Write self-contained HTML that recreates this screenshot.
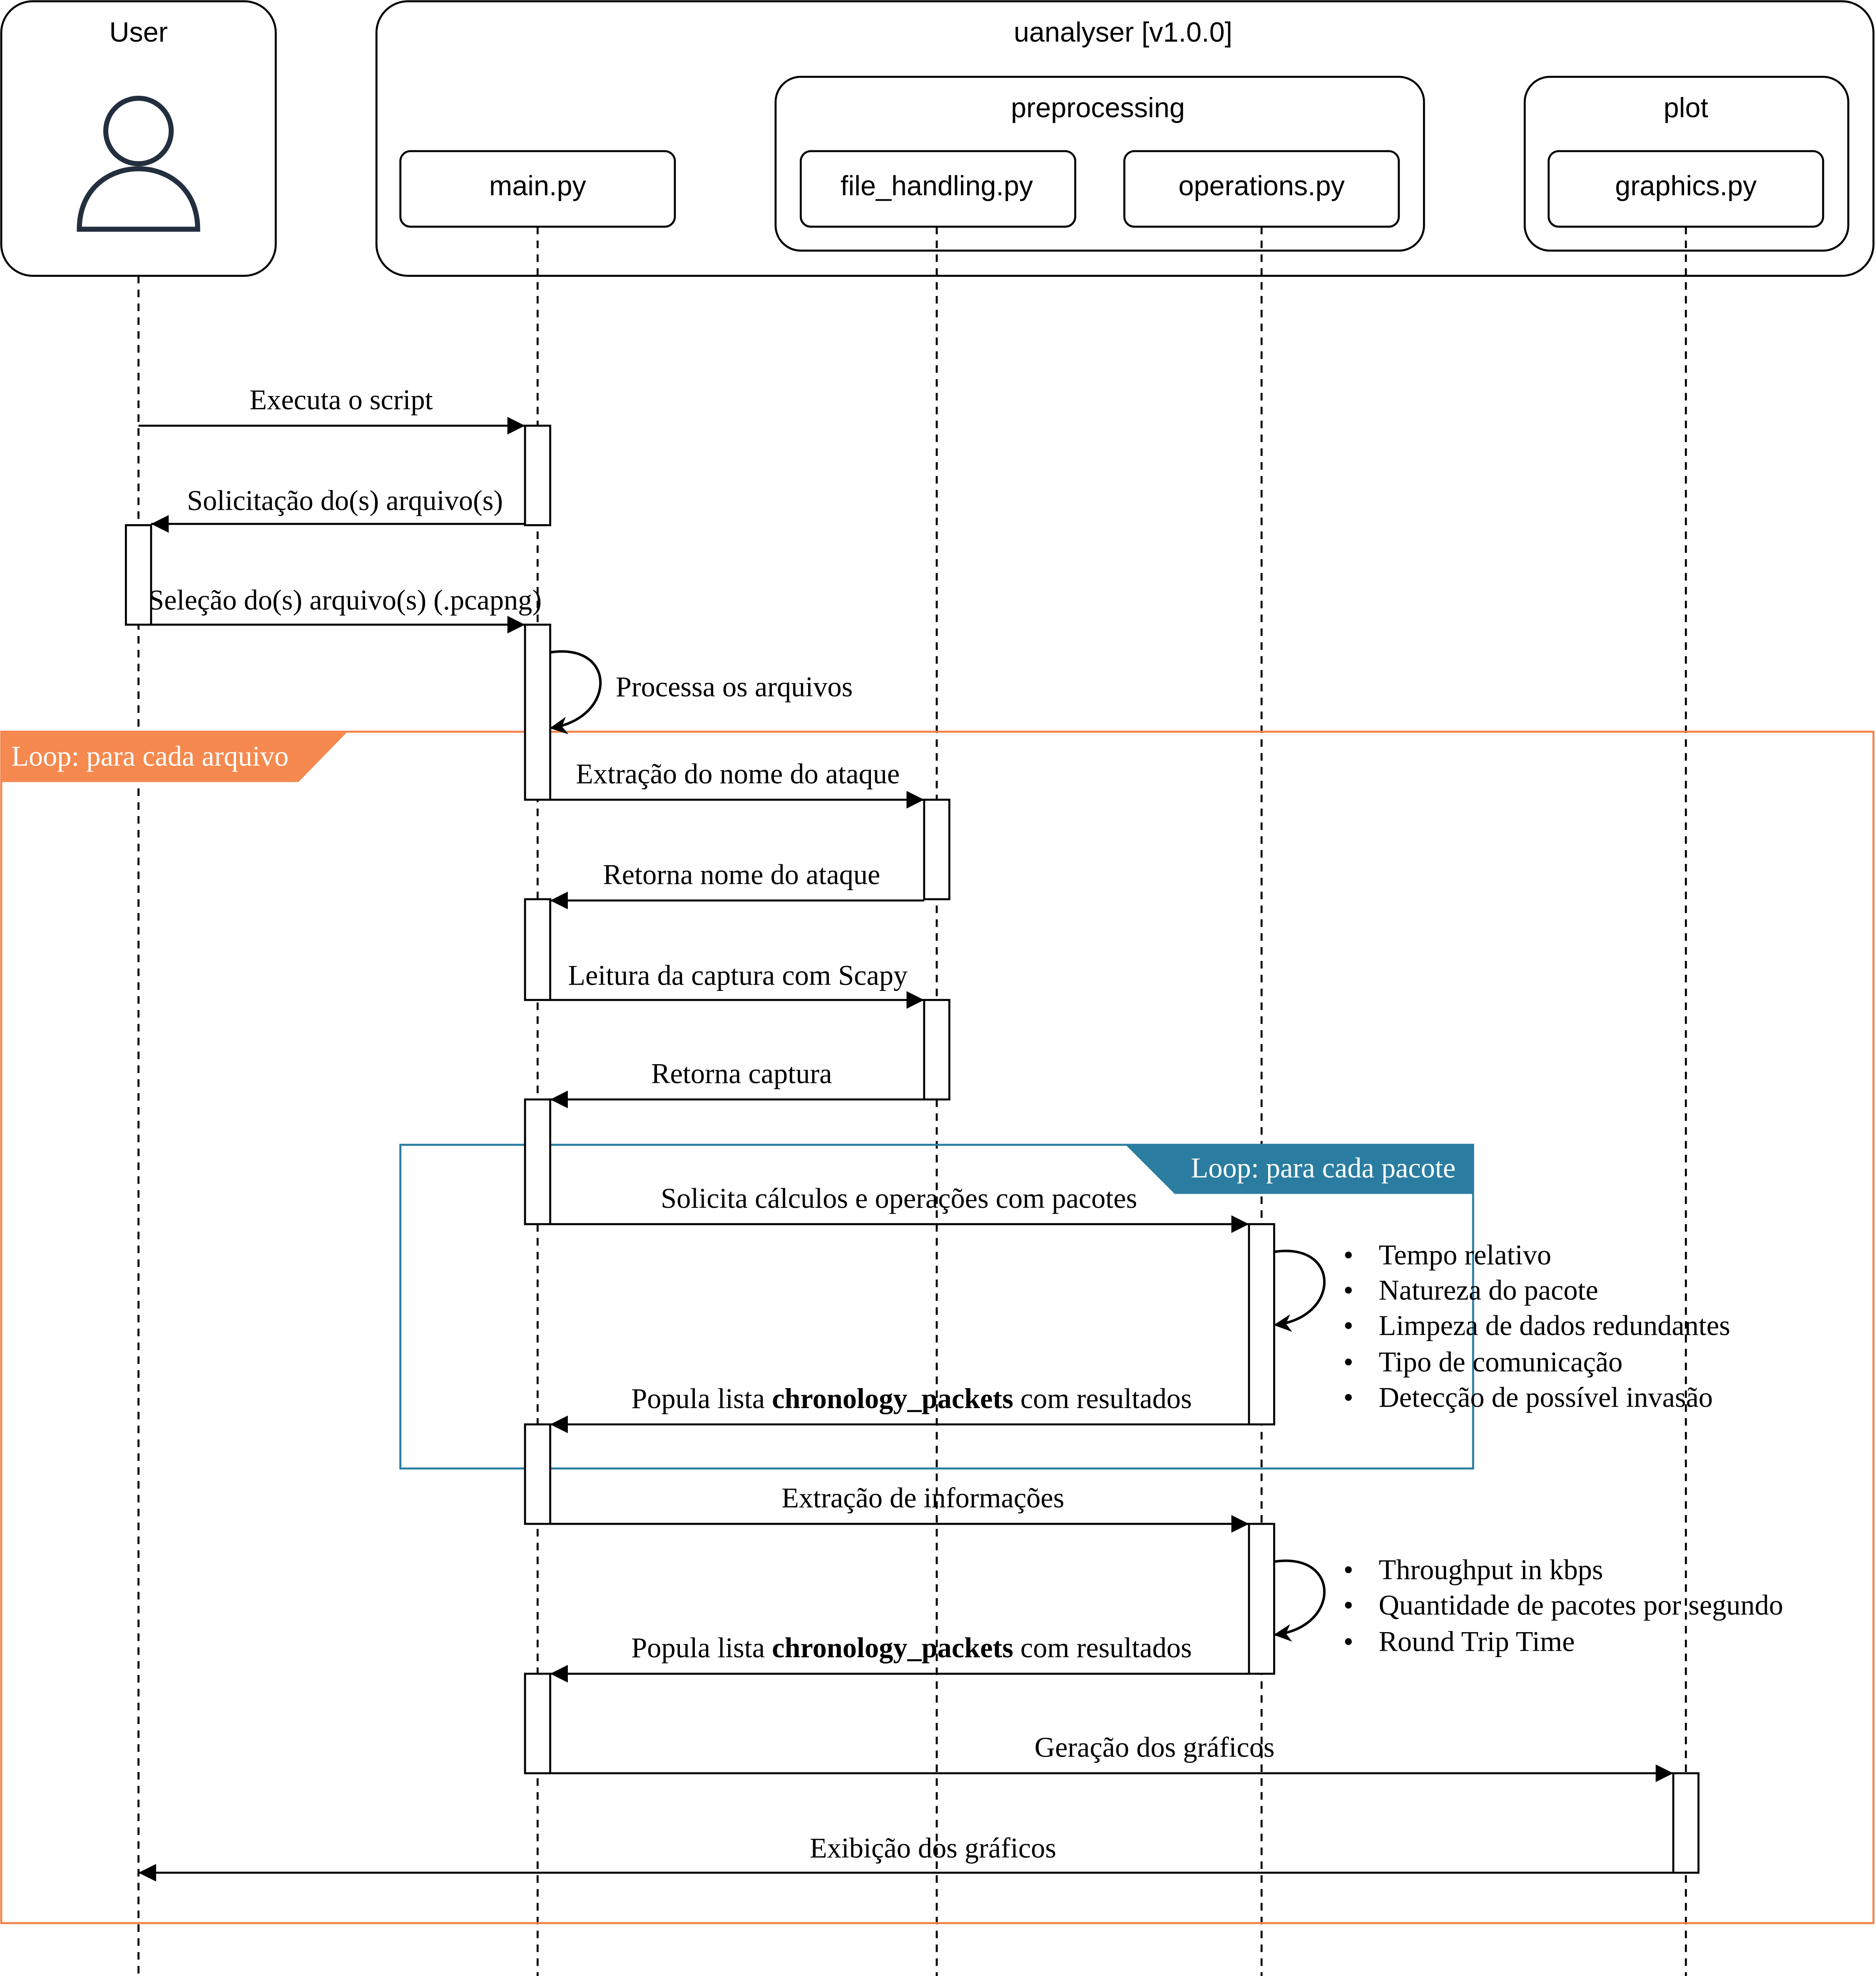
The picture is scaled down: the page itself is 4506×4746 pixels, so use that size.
<!DOCTYPE html>
<html><head><meta charset="utf-8"><style>html,body{margin:0;padding:0;background:#fff}svg{display:block}</style></head>
<body>
<svg xmlns="http://www.w3.org/2000/svg" width="4506" height="4746" viewBox="0 0 1490 1569" preserveAspectRatio="none">
<defs>
<marker id="ahb" viewBox="0 0 10 10" refX="10" refY="5" markerWidth="16" markerHeight="14" markerUnits="userSpaceOnUse" orient="auto"><path d="M0,0 L10,5 L0,10 z" fill="#000"/></marker>
<marker id="ac" viewBox="0 0 10 10" refX="9" refY="5" markerWidth="14" markerHeight="14" markerUnits="userSpaceOnUse" orient="auto"><path d="M0,0 L10,5 L0,10 L3,5 z" fill="#000"/></marker>
</defs>
<rect width="1490" height="1569" fill="#fff"/>
<g stroke="#000" stroke-width="1.6" stroke-dasharray="6,5" fill="none">
<line x1="110" y1="219" x2="110" y2="1569"/>
<line x1="427" y1="180" x2="427" y2="1569"/>
<line x1="744" y1="180" x2="744" y2="1569"/>
<line x1="1002" y1="180" x2="1002" y2="1569"/>
<line x1="1339" y1="180" x2="1339" y2="1569"/>
</g>
<g fill="none" stroke="#000" stroke-width="1.6">
<rect x="1" y="1" width="218" height="218" rx="25"/>
<rect x="299" y="1" width="1189" height="218" rx="25"/>
<rect x="616" y="61" width="515" height="138" rx="20"/>
<rect x="1211" y="61" width="257" height="138" rx="20"/>
<rect x="318" y="120" width="218" height="60" rx="8"/>
<rect x="636" y="120" width="218" height="60" rx="8"/>
<rect x="893" y="120" width="218" height="60" rx="8"/>
<rect x="1230" y="120" width="218" height="60" rx="8"/>
</g>
<g font-family="Liberation Sans, sans-serif" font-size="22" text-anchor="middle" fill="#000">
<text x="110" y="33">User</text>
<text x="892" y="33">uanalyser [v1.0.0]</text>
<text x="872" y="93">preprocessing</text>
<text x="1339" y="93">plot</text>
<text x="427" y="155">main.py</text>
<text x="744" y="155">file_handling.py</text>
<text x="1002" y="155">operations.py</text>
<text x="1339" y="155">graphics.py</text>
</g>
<g fill="none" stroke="#232F3E" stroke-width="4">
<circle cx="110" cy="104" r="26"/>
<path d="M63,182 C63,118 157,118 157,182 Z"/>
</g>
<rect x="1" y="581" width="1487" height="946" fill="none" stroke="#F5824A" stroke-width="1.6"/>
<polygon points="1,581 276,581 237,621 1,621" fill="#F5894F"/>
<rect x="318" y="909" width="852" height="257" fill="none" stroke="#2A7DA0" stroke-width="1.6"/>
<polygon points="894,909 1170,909 1170,948 933,948" fill="#2A7DA0"/>
<g font-family="Liberation Serif, serif" font-size="22.6" fill="#fff">
<text x="9" y="608">Loop: para cada arquivo</text>
<text x="1051" y="935" text-anchor="middle">Loop: para cada pacote</text>
</g>
<g fill="#fff" stroke="#000" stroke-width="1.6">
<rect x="417" y="338" width="20" height="79"/>
<rect x="100" y="417" width="20" height="79"/>
<rect x="417" y="496" width="20" height="139"/>
<rect x="734" y="635" width="20" height="79"/>
<rect x="417" y="714" width="20" height="80"/>
<rect x="734" y="794" width="20" height="79"/>
<rect x="417" y="873" width="20" height="99"/>
<rect x="992" y="972" width="20" height="159"/>
<rect x="417" y="1131" width="20" height="79"/>
<rect x="992" y="1210" width="20" height="119"/>
<rect x="417" y="1329" width="20" height="79"/>
<rect x="1329" y="1408" width="20" height="79"/>
</g>
<g stroke="#000" stroke-width="1.6" fill="none" marker-end="url(#ahb)">
<line x1="110" y1="338" x2="417" y2="338"/>
<line x1="417" y1="416" x2="120" y2="416"/>
<line x1="120" y1="496" x2="417" y2="496"/>
<line x1="437" y1="635" x2="734" y2="635"/>
<line x1="734" y1="715" x2="437" y2="715"/>
<line x1="437" y1="794" x2="734" y2="794"/>
<line x1="734" y1="873" x2="437" y2="873"/>
<line x1="437" y1="972" x2="992" y2="972"/>
<line x1="992" y1="1131" x2="437" y2="1131"/>
<line x1="437" y1="1210" x2="992" y2="1210"/>
<line x1="992" y1="1329" x2="437" y2="1329"/>
<line x1="437" y1="1408" x2="1329" y2="1408"/>
<line x1="1329" y1="1487" x2="110" y2="1487"/>
</g>
<g stroke="#000" stroke-width="2" fill="none" marker-end="url(#ac)">
<path d="M437,518 C490,510 490,570 438,578"/>
<path d="M1012,994 C1065,986 1065,1046 1013,1052"/>
<path d="M1012,1240 C1065,1232 1065,1292 1013,1298"/>
</g>
<g font-family="Liberation Serif, serif" font-size="22.6" fill="#000" text-anchor="middle">
<text x="271" y="325">Executa o script</text>
<text x="274" y="405">Solicitação do(s) arquivo(s)</text>
<text x="274" y="484">Seleção do(s) arquivo(s) (.pcapng)</text>
<text x="489" y="553" text-anchor="start">Processa os arquivos</text>
<text x="586" y="622">Extração do nome do ataque</text>
<text x="589" y="702">Retorna nome do ataque</text>
<text x="586" y="782">Leitura da captura com Scapy</text>
<text x="589" y="860">Retorna captura</text>
<text x="714" y="959">Solicita cálculos e operações com pacotes</text>
<text x="724" y="1118">Popula lista <tspan font-weight="bold">chronology_packets</tspan> com resultados</text>
<text x="733" y="1197">Extração de informações</text>
<text x="724" y="1316">Popula lista <tspan font-weight="bold">chronology_packets</tspan> com resultados</text>
<text x="917" y="1395">Geração dos gráficos</text>
<text x="741" y="1475">Exibição dos gráficos</text>
</g>
<g font-family="Liberation Serif, serif" font-size="22.6" fill="#000">
<text x="1067" y="1004">•</text><text x="1095" y="1004">Tempo relativo</text>
<text x="1067" y="1032">•</text><text x="1095" y="1032">Natureza do pacote</text>
<text x="1067" y="1060">•</text><text x="1095" y="1060">Limpeza de dados redundantes</text>
<text x="1067" y="1089">•</text><text x="1095" y="1089">Tipo de comunicação</text>
<text x="1067" y="1117">•</text><text x="1095" y="1117">Detecção de possível invasão</text>
<text x="1067" y="1254">•</text><text x="1095" y="1254">Throughput in kbps</text>
<text x="1067" y="1282">•</text><text x="1095" y="1282">Quantidade de pacotes por segundo</text>
<text x="1067" y="1311">•</text><text x="1095" y="1311">Round Trip Time</text>
</g>
</svg>
</body></html>
